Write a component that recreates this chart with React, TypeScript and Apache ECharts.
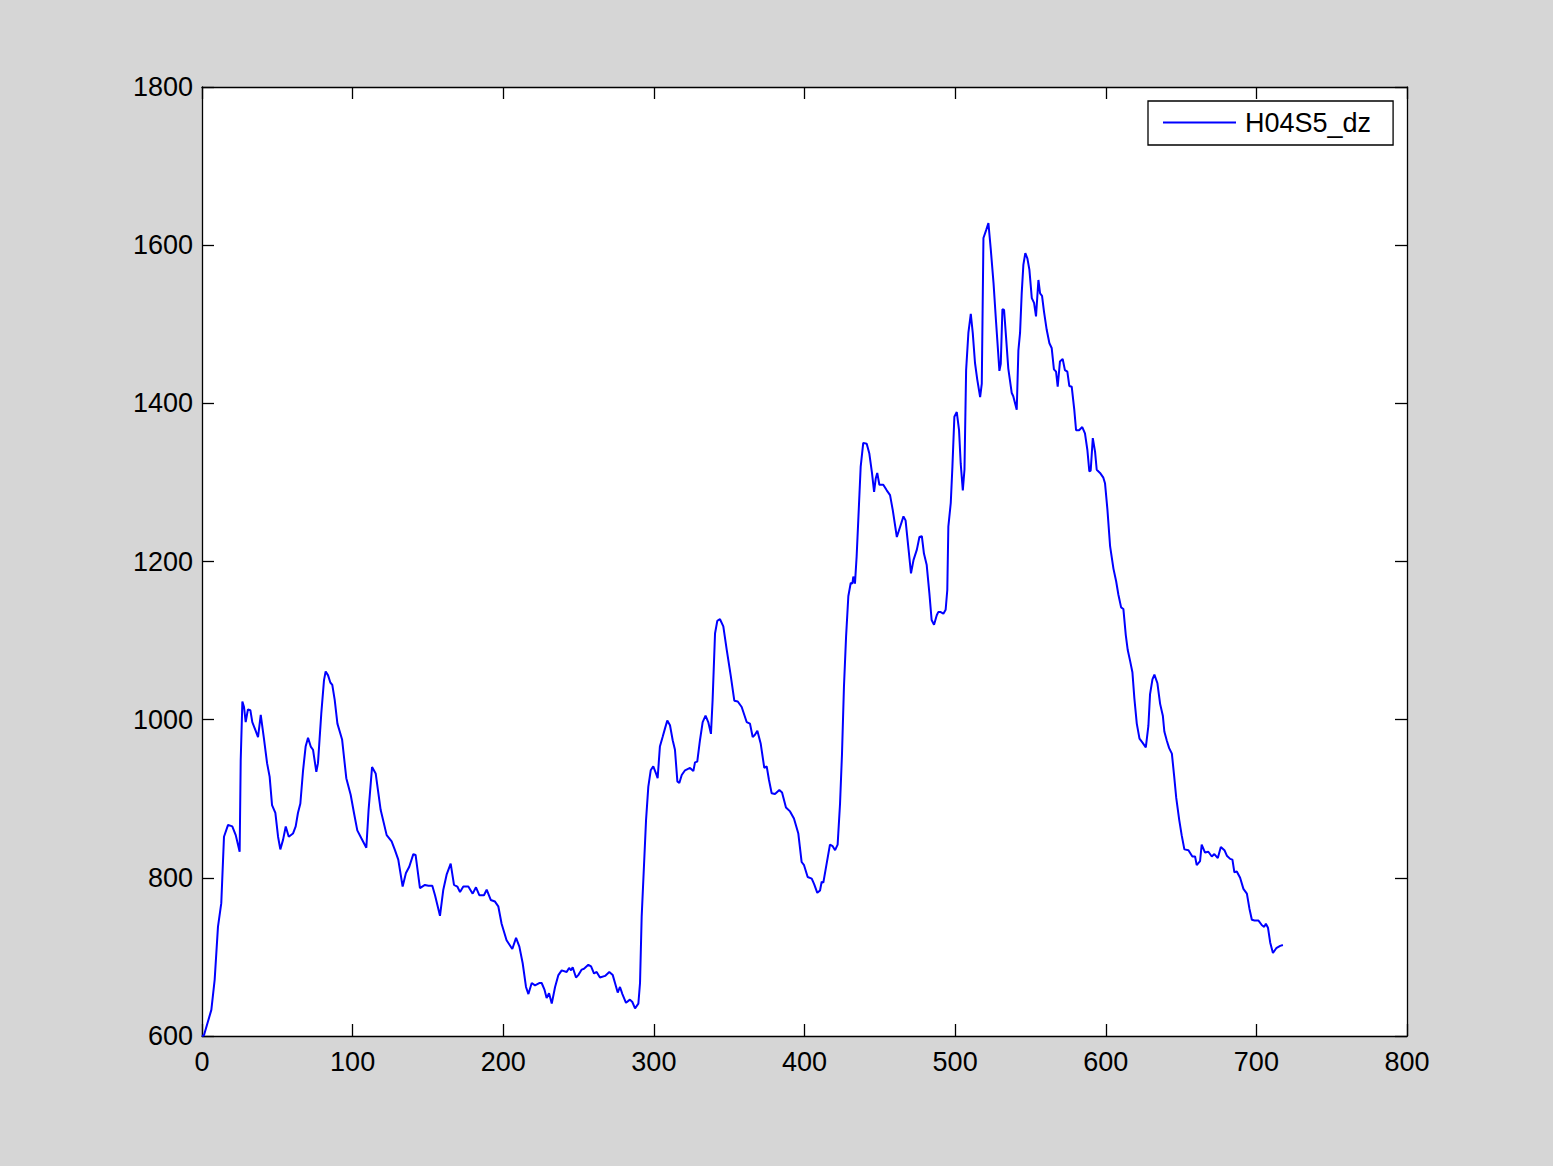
import React, { useEffect, useRef } from "react";
import * as echarts from "echarts";

// sample index (x) and H04S5_dz value (y)
const sampleX: number[] = [
  0, 1.3, 6.2, 8.4, 10.6, 12.8, 14.6, 17.3, 20.1, 22.4, 25.0, 25.7, 26.8, 27.9, 29.0, 30.5, 32.1, 33.4, 35.4, 37.2,
  39.0, 41.0, 43.2, 44.9, 46.5, 48.7, 50.5, 52.0, 53.8, 55.6, 57.6, 60.4, 62.2, 63.7, 65.3, 67.1, 68.8, 70.4, 72.2, 73.7,
  75.9, 77.0, 79.2, 81.0, 82.1, 83.7, 85.2, 86.5, 88.1, 89.9, 93.0, 95.8, 98.7, 100.9, 103.1, 105.8, 109.1, 110.6, 112.9, 115.3,
  118.6, 122.6, 125.9, 128.1, 130.3, 133.2, 135.4, 137.6, 140.3, 141.8, 144.7, 148.0, 150.3, 152.9, 154.7, 158.0, 160.2, 162.4, 165.1, 167.3,
  169.5, 171.3, 173.5, 176.8, 179.7, 181.9, 184.1, 187.2, 189.0, 191.7, 194.5, 196.7, 198.9, 202.2, 206.0, 208.5, 210.7, 212.9, 215.1, 216.7,
  218.9, 221.1, 223.9, 225.5, 227.3, 228.8, 230.4, 232.2, 234.4, 236.6, 238.8, 242.1, 243.7, 245.0, 246.1, 248.3, 249.8, 252.1, 253.6, 256.5,
  258.3, 260.3, 262.0, 264.2, 267.6, 270.4, 272.7, 274.2, 276.0, 277.5, 279.1, 281.5, 284.1, 285.7, 287.5, 289.7, 290.8, 291.9, 293.4, 294.8,
  296.3, 297.9, 299.6, 301.4, 302.5, 304.0, 305.8, 307.4, 308.9, 310.7, 312.5, 314.0, 315.6, 316.9, 318.5, 320.7, 324.0, 326.2, 327.3, 328.8,
  330.6, 332.4, 334.3, 336.1, 337.9, 339.0, 340.6, 342.1, 343.9, 346.1, 348.4, 351.0, 353.4, 355.7, 358.3, 361.6, 363.8, 365.6, 367.1, 368.7,
  370.9, 373.3, 374.9, 376.4, 378.2, 380.4, 383.3, 385.1, 387.7, 390.4, 393.0, 395.9, 398.1, 399.7, 402.1, 404.8, 406.4, 408.5, 410.3, 411.4,
  412.5, 414.7, 416.9, 418.7, 420.3, 422.0, 423.6, 424.9, 426.2, 427.6, 429.1, 430.7, 431.8, 432.4, 433.5, 434.6, 435.7, 437.3, 439.0, 441.3,
  443.0, 444.8, 446.2, 447.3, 448.3, 449.7, 452.3, 454.6, 456.8, 458.6, 461.3, 463.5, 465.7, 467.1, 469.1, 470.7, 472.4, 474.6, 476.3, 477.9,
  479.3, 481.1, 482.9, 484.4, 486.0, 487.8, 488.8, 490.4, 492.2, 493.7, 494.8, 495.5, 497.1, 498.2, 499.5, 501.1, 502.6, 503.7, 505.1, 506.2,
  507.3, 508.8, 510.4, 511.7, 513.2, 514.7, 516.6, 517.7, 518.8, 520.6, 522.1, 523.7, 525.5, 527.1, 529.4, 530.3, 531.4, 532.5, 533.8, 535.3,
  537.6, 538.6, 540.9, 542.0, 543.1, 544.2, 545.3, 546.6, 548.0, 549.3, 550.9, 552.4, 553.7, 555.3, 556.4, 557.7, 559.0, 560.8, 562.6, 564.1,
  565.6, 567.0, 568.1, 569.6, 571.4, 572.9, 574.5, 575.8, 577.4, 579.1, 580.3, 582.3, 584.4, 586.2, 587.8, 589.1, 590.0, 591.4, 592.9, 594.0,
  596.2, 598.4, 599.5, 601.1, 602.9, 605.1, 606.9, 608.4, 610.2, 611.7, 613.3, 614.6, 616.2, 617.7, 619.0, 620.6, 622.4, 624.4, 626.6, 628.3,
  629.4, 631.0, 632.3, 634.3, 636.1, 637.9, 638.9, 640.6, 642.1, 643.9, 645.4, 646.8, 648.8, 650.4, 652.2, 654.9, 657.5, 659.3, 660.4, 662.6,
  663.7, 665.9, 668.1, 670.4, 672.1, 674.4, 676.4, 678.8, 680.4, 682.6, 684.1, 685.4, 687.0, 689.2, 691.4, 693.7, 695.4, 697.0, 698.8, 701.4,
  703.7, 705.2, 706.3, 707.7, 709.2, 711.0, 713.2, 715.8, 717.6,
];

const dzValues: number[] = [
  600, 601, 633, 671, 738, 768, 852, 867, 865, 854, 833, 949, 1023, 1016, 997, 1013, 1012, 997, 987, 978,
  1006, 978, 945, 928, 892, 882, 852, 836, 848, 865, 852, 856, 865, 882, 894, 936, 966, 977, 966, 962,
  934, 945, 1008, 1050, 1061, 1056, 1047, 1044, 1025, 995, 975, 926, 905, 882, 860, 850, 838, 886, 940, 932,
  886, 854, 846, 835, 823, 789, 806, 814, 830, 829, 787, 791, 790, 790, 778, 752, 785, 804, 818, 791,
  789, 782, 789, 789, 780, 788, 778, 778, 785, 772, 770, 764, 742, 721, 710, 724, 713, 692, 662, 653,
  667, 664, 667, 667, 659, 648, 654, 641, 662, 677, 683, 681, 686, 683, 687, 674, 677, 684, 685, 690,
  688, 679, 681, 674, 676, 681, 677, 667, 655, 662, 653, 642, 646, 643, 635, 641, 667, 751, 814, 873,
  915, 936, 941, 932, 926, 966, 978, 989, 999, 993, 974, 962, 922, 920, 930, 936, 939, 935, 946, 947,
  974, 997, 1005, 997, 982, 1025, 1109, 1125, 1127, 1118, 1088, 1056, 1024, 1023, 1016, 997, 995, 978, 981, 986,
  970, 939, 941, 924, 907, 906, 911, 908, 889, 884, 875, 856, 820, 816, 801, 799, 792, 781, 784, 795,
  794, 818, 842, 840, 835, 842, 894, 957, 1042, 1105, 1156, 1173, 1172, 1181, 1172, 1206, 1252, 1320, 1350, 1349,
  1337, 1312, 1288, 1305, 1312, 1297, 1297, 1290, 1284, 1265, 1231, 1244, 1257, 1252, 1215, 1185, 1202, 1215, 1231, 1232,
  1210, 1196, 1160, 1126, 1120, 1132, 1136, 1136, 1134, 1139, 1164, 1244, 1274, 1320, 1383, 1389, 1366, 1324, 1290, 1316,
  1442, 1489, 1513, 1489, 1451, 1430, 1408, 1425, 1609, 1619, 1628, 1594, 1552, 1505, 1441, 1450, 1519, 1518, 1484, 1444,
  1413, 1409, 1392, 1467, 1489, 1539, 1575, 1590, 1583, 1569, 1533, 1527, 1510, 1556, 1539, 1536, 1516, 1493, 1476, 1470,
  1443, 1440, 1421, 1453, 1456, 1442, 1440, 1422, 1421, 1392, 1366, 1366, 1370, 1362, 1341, 1314, 1315, 1356, 1339, 1316,
  1312, 1306, 1299, 1266, 1219, 1191, 1175, 1158, 1142, 1140, 1107, 1088, 1074, 1060, 1027, 995, 976, 971, 965, 992,
  1032, 1051, 1057, 1046, 1020, 1005, 985, 973, 964, 957, 929, 901, 873, 854, 836, 835, 827, 827, 816, 821,
  842, 832, 833, 827, 830, 825, 839, 835, 828, 824, 823, 807, 808, 800, 786, 780, 761, 747, 746, 746,
  740, 738, 742, 737, 718, 705, 711, 714, 715,
];

const seriesName = "H04S5_dz";
const xTicks = { min: 0, max: 800, interval: 100 };
const yTicks = { min: 600, max: 1800, interval: 200 };

export default function App() {
  const ref = useRef<HTMLDivElement>(null);

  useEffect(() => {
    if (!ref.current) return;
    const chart = echarts.init(ref.current, undefined, { renderer: "svg" });
    const data = sampleX.map((x, i) => [x, dzValues[i]]);
    const font = "'Liberation Sans', Arial, Helvetica, sans-serif";
    const axisLine = { show: true, onZero: false, lineStyle: { color: "#000", width: 1.3 } };
    const tick = { show: true, inside: true, length: 12, lineStyle: { color: "#000", width: 1.3 } };
    const plain = (v: number) => String(v);

    chart.setOption({
      animation: false,
      backgroundColor: "#d6d6d6",
      grid: {
        left: 202,
        top: 87,
        right: 146,
        bottom: 130,
        show: true,
        backgroundColor: "#ffffff",
        borderWidth: 0,
      },
      legend: {
        show: true,
        left: 1148,
        top: 101,
        orient: "horizontal",
        backgroundColor: "#ffffff",
        borderColor: "#000000",
        borderWidth: 1.3,
        borderRadius: 0,
        padding: [8, 22, 9, 15],
        itemWidth: 73,
        itemHeight: 27,
        textStyle: { fontFamily: font, fontSize: 27, color: "#000", padding: [0, 0, 0, 4] },
        data: [{ name: seriesName, icon: "path://M0,0 L73,0 L73,1.8 L0,1.8 Z", itemStyle: { color: "#0000ff" } }],
      },
      xAxis: [
        {
          type: "value",
          position: "bottom",
          min: xTicks.min,
          max: xTicks.max,
          interval: xTicks.interval,
          axisLine,
          axisTick: tick,
          splitLine: { show: false },
          axisLabel: { show: true, color: "#000", fontFamily: font, fontSize: 27, margin: 12, formatter: plain },
        },
        {
          type: "value",
          position: "top",
          min: xTicks.min,
          max: xTicks.max,
          interval: xTicks.interval,
          axisLine,
          axisTick: tick,
          splitLine: { show: false },
          axisLabel: { show: false },
        },
      ],
      yAxis: [
        {
          type: "value",
          position: "left",
          min: yTicks.min,
          max: yTicks.max,
          interval: yTicks.interval,
          axisLine,
          axisTick: tick,
          splitLine: { show: false },
          axisLabel: { show: true, color: "#000", fontFamily: font, fontSize: 27, margin: 9, formatter: plain },
        },
        {
          type: "value",
          position: "right",
          min: yTicks.min,
          max: yTicks.max,
          interval: yTicks.interval,
          axisLine,
          axisTick: tick,
          splitLine: { show: false },
          axisLabel: { show: false },
        },
      ],
      series: [
        {
          name: seriesName,
          type: "line",
          xAxisIndex: 0,
          yAxisIndex: 0,
          data,
          symbol: "none",
          showSymbol: false,
          smooth: false,
          lineStyle: { color: "#0000ff", width: 2 },
          itemStyle: { color: "#0000ff" },
        },
      ],
    });

    return () => chart.dispose();
  }, []);

  return (
    <div
      ref={ref}
      style={{ position: "fixed", left: 0, top: 0, width: 1553, height: 1166 }}
    />
  );
}
